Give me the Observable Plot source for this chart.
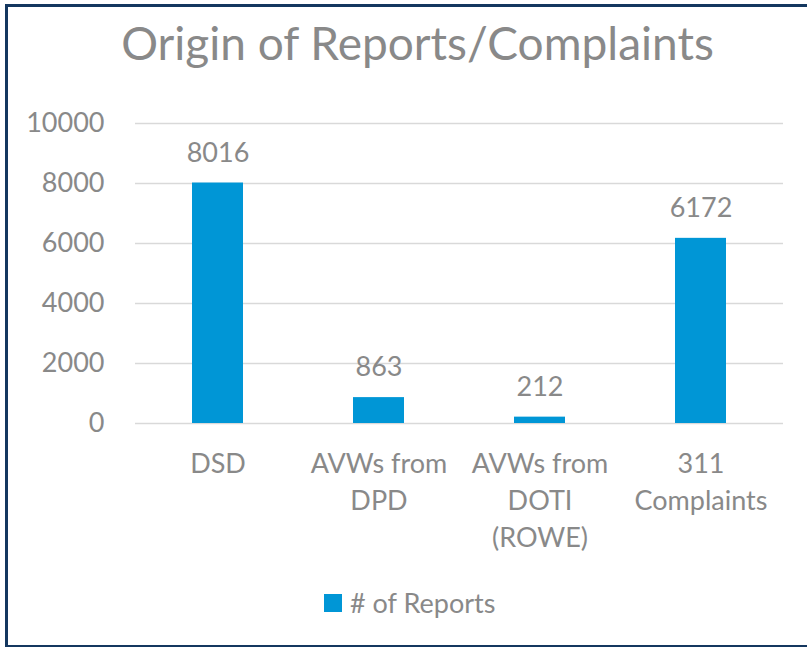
<!DOCTYPE html>
<html>
<head>
<meta charset="utf-8">
<script src="https://cdn.jsdelivr.net/npm/d3@7"></script>
<script src="https://cdn.jsdelivr.net/npm/@observablehq/plot@0.6"></script>
<style>
  html, body { margin: 0; padding: 0; background: #fff; }
  #wrap { position: relative; width: 807px; height: 647px; overflow: hidden; font-family: Lato, "Open Sans", sans-serif; }
  #frame { position: absolute; left: 5px; top: 4px; width: 820px; height: 638px; border: 3px solid #14375f; box-sizing: content-box; }
  #title { position: absolute; left: 0; width: 835px; top: 15px; text-align: center; font-size: 46px; color: #898989; white-space: nowrap; }
  #chart { position: absolute; left: 0; top: 0; }
  #legend { position: absolute; left: 324px; top: 586px; font-size: 27px; color: #898989; display: flex; align-items: center; white-space: nowrap; }
  #legend .sw { width: 18px; height: 18px; background: #0096d6; margin-right: 8px; }
</style>
</head>
<body>
<div id="wrap">
  <div id="frame"></div>
  <div id="title">Origin of Reports/Complaints</div>
  <div id="chart"></div>
  <div id="legend"><span class="sw"></span><span># of Reports</span></div>
</div>
<script>
const categories = ["DSD", "AVWs from DPD", "AVWs from DOTI (ROWE)", "311 Complaints"];
const categoryLabels = ["DSD", "AVWs from\nDPD", "AVWs from\nDOTI\n(ROWE)", "311\nComplaints"];
const reports = [8016, 863, 212, 6172];
const yTicks = [0, 2000, 4000, 6000, 8000, 10000];
const seriesName = "# of Reports";

const data = categories.map((c, i) => ({category: c, value: reports[i]}));
const labelOf = new Map(categories.map((c, i) => [c, categoryLabels[i]]));

const textColor = "#898989";
const chart = Plot.plot({
  width: 807,
  height: 647,
  marginLeft: 135,
  marginRight: 24,
  marginTop: 123,
  marginBottom: 224,
  style: {fontFamily: "Lato, 'Open Sans', sans-serif", background: "transparent", overflow: "visible"},
  x: {domain: categories, paddingInner: 0.685, paddingOuter: 0.3426},
  y: {domain: [0, 10000]},
  marks: [
    Plot.gridY(yTicks, {stroke: "#d9d9d9", strokeOpacity: 1, strokeWidth: 1.5}),
    Plot.barY(data, {x: "category", y: "value", fill: "#0096d6"}),
    Plot.text(data, {x: "category", y: "value", text: d => String(d.value), dy: -30, fontSize: 27, fill: textColor}),
    Plot.axisY({ticks: yTicks, tickFormat: d => String(d), tickSize: 0, tickPadding: 31, fontSize: 27, fill: textColor, label: null}),
    Plot.axisX({tickFormat: d => labelOf.get(d), tickSize: 0, tickPadding: 23, fontSize: 27, lineHeight: 1.37, fill: textColor, label: null})
  ]
});
document.getElementById("chart").appendChild(chart);
</script>
</body>
</html>
